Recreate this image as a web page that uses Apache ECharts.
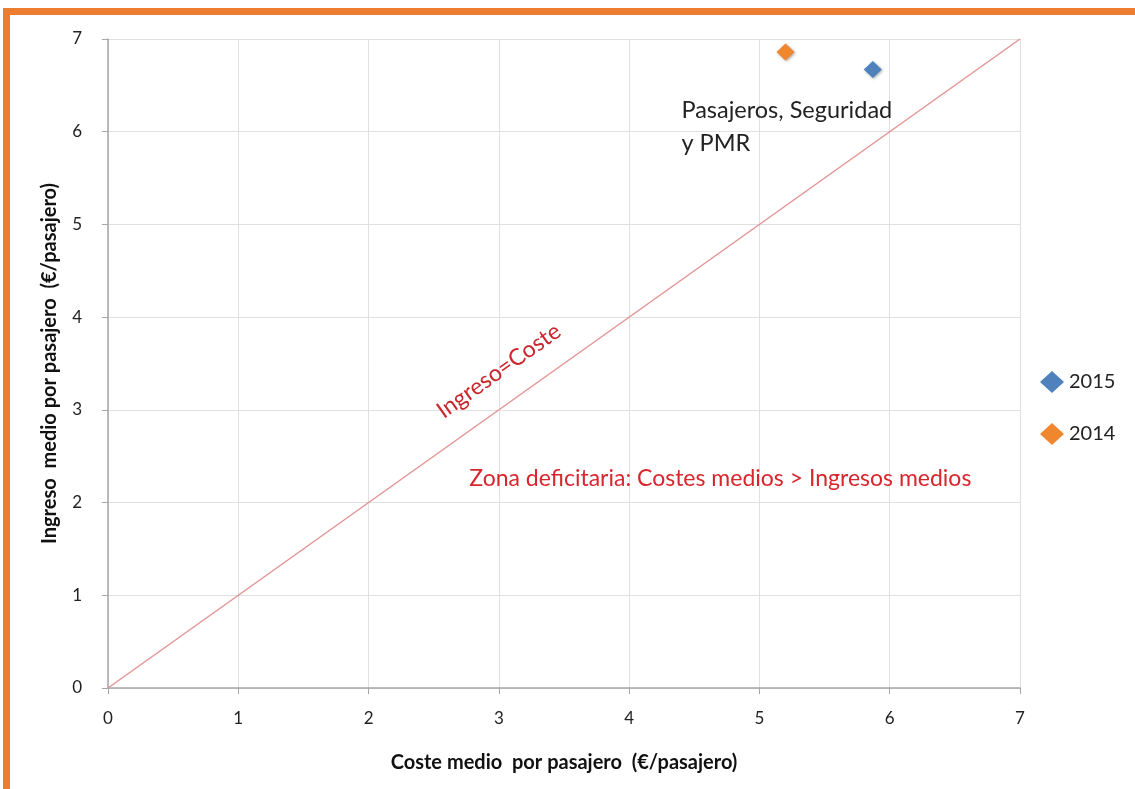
<!DOCTYPE html>
<html><head><meta charset="utf-8">
<script src="https://cdn.jsdelivr.net/npm/echarts@6/dist/echarts.min.js"></script>
<style>html,body{margin:0;padding:0;background:#fff;}#c{width:1135px;height:789px;}</style>
</head><body><div id="c"></div>
<script>
const seriesNames = ['2015', '2014'];
const coste2015 = [5.87];
const ingreso2015 = [6.67];
const coste2014 = [5.20];
const ingreso2014 = [6.86];
const equalLine = [[0, 0], [7, 7]];
const xTicks = [0, 1, 2, 3, 4, 5, 6, 7];
const yTicks = [0, 1, 2, 3, 4, 5, 6, 7];
const xName = 'Coste medio  por pasajero  (€/pasajero)';
const yName = 'Ingreso  medio por pasajero  (€/pasajero)';
const pointLabel = 'Pasajeros, Seguridad\ny PMR';
const lineLabel = 'Ingreso=Coste';
const zoneLabel = 'Zona deficitaria: Costes medios > Ingresos medios';
const titleLeft = 'Resultado medio ';
const titleRight = 'por pasajero (2015) y 2014';

const body = 'Lato, "Open Sans", sans-serif';

const chart = echarts.init(document.getElementById('c'), null, {renderer: 'canvas'});
chart.setOption({
  animation: false,
  backgroundColor: '#fff',
  grid: {left: 108, top: 39, right: 115, bottom: 101, containLabel: false},
  legend: {
    orient: 'vertical', left: 1035, top: 366, itemGap: 30, itemWidth: 24, itemHeight: 22,
    data: seriesNames.map(n => ({name: n, icon: 'diamond'})),
    textStyle: {fontFamily: body, fontSize: 20, color: '#222'}
  },
  xAxis: {
    type: 'value', min: xTicks[0], max: xTicks[xTicks.length - 1], interval: 1,
    name: xName, nameLocation: 'middle', nameGap: 65,
    nameTextStyle: {fontFamily: body, fontSize: 20, fontWeight: 'bold', color: '#111'},
    axisLine: {show: true, lineStyle: {color: '#a6a6a6', width: 1.5}},
    axisTick: {show: true, length: 6, lineStyle: {color: '#a6a6a6'}},
    axisLabel: {margin: 22, fontFamily: body, fontSize: 17, color: '#222'},
    splitLine: {show: true, lineStyle: {color: '#e0e0e0'}}
  },
  yAxis: {
    type: 'value', min: yTicks[0], max: yTicks[yTicks.length - 1], interval: 1,
    name: yName, nameLocation: 'middle', nameGap: 48,
    nameTextStyle: {fontFamily: body, fontSize: 20, fontWeight: 'bold', color: '#111'},
    axisLine: {show: true, lineStyle: {color: '#a6a6a6', width: 1.5}},
    axisTick: {show: true, length: 6, lineStyle: {color: '#a6a6a6'}},
    axisLabel: {margin: 26, fontFamily: body, fontSize: 17, color: '#222'},
    splitLine: {show: true, lineStyle: {color: '#e0e0e0'}}
  },
  series: [
    {
      name: 'Ingreso=Coste', type: 'line', data: equalLine, symbol: 'none', silent: true,
      lineStyle: {color: '#e39494', width: 1.5}, z: 2,
      markPoint: {
        symbol: 'circle', symbolSize: 0,
        data: [
          {coord: [3.0, 3.42], label: {show: true, formatter: lineLabel, rotate: 35.4, color: '#c9262d', fontFamily: body, fontSize: 23, position: 'inside'}},
          {coord: [4.70, 2.26], label: {show: true, formatter: zoneLabel, color: '#d9262d', fontFamily: body, fontSize: 23, position: 'inside'}},
          {coord: [5.23, 6.05], label: {show: true, formatter: pointLabel, color: '#222', fontFamily: body, fontSize: 23.5, position: 'inside', align: 'left', offset: [-108, 0], lineHeight: 33, width: 300}}
        ]
      }
    },
    {
      name: seriesNames[0], type: 'scatter', symbol: 'diamond', symbolSize: [18, 17],
      itemStyle: {color: '#4f81bd', opacity: 1, shadowColor: 'rgba(0,0,0,0.35)', shadowBlur: 3, shadowOffsetX: 1, shadowOffsetY: 1},
      data: coste2015.map((c, i) => [c, ingreso2015[i]]), z: 5
    },
    {
      name: seriesNames[1], type: 'scatter', symbol: 'diamond', symbolSize: [18, 17],
      itemStyle: {color: '#f0862e', opacity: 1, shadowColor: 'rgba(0,0,0,0.35)', shadowBlur: 3, shadowOffsetX: 1, shadowOffsetY: 1},
      data: coste2014.map((c, i) => [c, ingreso2014[i]]), z: 5
    }
  ],
  graphic: [
    {type: 'rect', shape: {x: 3, y: 8, width: 1135, height: 7}, style: {fill: '#ed7d31'}, silent: true},
    {type: 'rect', shape: {x: 3, y: 8, width: 7, height: 781}, style: {fill: '#ed7d31'}, silent: true},
    {type: 'text', x: 532, y: -35, style: {text: titleLeft, font: 'bold 35px Lato, sans-serif', fill: '#000', align: 'right', verticalAlign: 'top'}, silent: true, z: -1},
    {type: 'text', x: 532, y: -35, style: {text: titleRight, font: 'bold 35px Lato, sans-serif', fill: '#000', align: 'left', verticalAlign: 'top'}, silent: true, z: -1}
  ]
});
</script></body></html>
